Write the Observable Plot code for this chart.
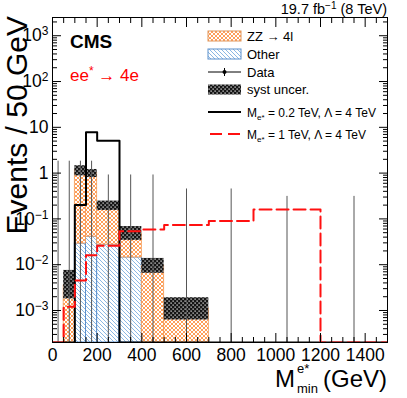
<!DOCTYPE html>
<html><head><meta charset="utf-8">
<script src="https://cdn.jsdelivr.net/npm/d3@7"></script>
<script src="https://cdn.jsdelivr.net/npm/@observablehq/plot@0.6"></script>
<style>html,body{margin:0;padding:0;background:#fff;} #chart{width:407px;height:398px;}</style>
</head><body><div id="chart"></div>
<script>
// ---- data ----
const binEdges = [0,50,100,150,200,300,400,500,700,900,1200,1500];
// background stack bins
const bkgLo = [50,100,150,200,300,400,500];
const bkgHi = [100,150,200,300,400,500,700];
const otherVals = [0, 0.029, 0.041, 0.0275, 0.0144, 0, 0];
const zzVals = [0.0035, 1.12, 0.96, 0.167, 0.034, 0.0095, 0.0011];
const systLow = [0.0018, 0.87, 0.80, 0.153, 0.034, 0.0065, 0.00062];
const systHigh = [0.0075, 1.45, 1.20, 0.245, 0.068, 0.0137, 0.0019];
// signal histograms, one value per bin of binEdges
const sig02 = [0, 0, 0.2, 7.8, 5.1, 0, 0, 0, 0, 0, 0];
const sig1 = [0, 0.0012, 0.0045, 0.016, 0.026, 0.054, 0.059, 0.074, 0.09, 0.16, 0];
// data: zero observed events, upper error bar per 50 GeV
const dataUp = [1.82, 1.82, 1.82, 1.82, 0.91, 0.91, 0.91, 0.45, 0.45, 0.31, 0.31];
const xTicks = [0,200,400,600,800,1000,1200,1400];
const yTickExp = [-3,-2,-1,0,1,2,3];
const legendLabels = ["ZZ \u2192 4l", "Other", "Data", "syst uncer."];

const FONT = "'Liberation Sans', Arial, Helvetica, sans-serif";
const YMIN = 2e-4, YMAX = 2.5e3;

const stack = bkgLo.map((lo, i) => ({lo, hi: bkgHi[i], other: otherVals[i], zz: zzVals[i], sl: systLow[i], sh: systHigh[i]}));
const stepRows = vals => binEdges.map((e, i) => ({x: e, y: (i < vals.length ? vals[i] : vals[vals.length - 1]) || YMIN}));
const dataRows = dataUp.map((u, i) => ({c: (binEdges[i] + binEdges[i + 1]) / 2, up: u}));

const xMinor = d3.range(0, 1501, 50).filter(v => !xTicks.includes(v));
const yMajor = yTickExp.map(e => 10 ** e);
const yMinor = [];
for (let e = -4; e <= 3; e++) for (let m = 2; m <= 9; m++) { const v = m * 10 ** e; if (v > YMIN && v < YMAX) yMinor.push(v); }
const fmtY = v => { const e = Math.round(Math.log10(v)); return e === 0 ? "1" : e === 1 ? "10" : "10^" + (e < 0 ? "\u2212" + (-e) : e); };
const blank = () => "";

const svg = Plot.plot({
  width: 407, height: 398,
  marginLeft: 52, marginRight: 20, marginTop: 17, marginBottom: 56,
  style: {fontFamily: FONT, fontSize: "17px", background: "white", overflow: "visible"},
  x: {domain: [0, 1500]},
  y: {type: "log", domain: [YMIN, YMAX]},
  marks: [
    Plot.rect(stack.filter(d => d.other > 0), {x1: "lo", x2: "hi", y1: () => YMIN, y2: "other", fill: "url(#hOther)", stroke: "#5b8fcc", strokeWidth: 1}),
    Plot.rect(stack, {x1: "lo", x2: "hi", y1: d => Math.max(d.other, YMIN), y2: d => d.other + d.zz, fill: "url(#hZZ)", stroke: "#f59a55", strokeWidth: 0.8}),
    Plot.rect(stack, {x1: "lo", x2: "hi", y1: "sl", y2: "sh", fill: "url(#hSyst)"}),
    Plot.ruleX(dataRows, {x: "c", y1: () => YMIN, y2: "up", stroke: "#555", strokeWidth: 1}),
    Plot.line(stepRows(sig02), {x: "x", y: "y", curve: "step-after", stroke: "black", strokeWidth: 2, clip: true}),
    Plot.line(stepRows(sig1), {x: "x", y: "y", curve: "step-after", stroke: "#ff1010", strokeWidth: 2, strokeDasharray: "12,5", clip: true}),
    Plot.frame({stroke: "black", strokeWidth: 1}),
    Plot.axisX({anchor: "bottom", ticks: xTicks, tickSize: -9, tickPadding: 15, fontSize: 17.5, label: null, tickFormat: d => String(d)}),
    Plot.axisX({anchor: "bottom", ticks: xMinor, tickSize: -5, label: null, tickFormat: blank}),
    Plot.axisX({anchor: "top", ticks: xTicks, tickSize: -9, label: null, tickFormat: blank}),
    Plot.axisX({anchor: "top", ticks: xMinor, tickSize: -5, label: null, tickFormat: blank}),
    Plot.axisY({anchor: "left", ticks: yMajor, tickSize: -9, tickPadding: 13, fontSize: 17.5, label: null, tickFormat: fmtY}),
    Plot.axisY({anchor: "left", ticks: yMinor, tickSize: -5, label: null, tickFormat: blank}),
    Plot.axisY({anchor: "right", ticks: yMajor, tickSize: -9, label: null, tickFormat: blank}),
    Plot.axisY({anchor: "right", ticks: yMinor, tickSize: -5, label: null, tickFormat: blank})
  ]
});
document.getElementById("chart").appendChild(svg);

const S = d3.select(svg);
// patterns
const defs = S.insert("defs", ":first-child");
const pz = defs.append("pattern").attr("id", "hZZ").attr("patternUnits", "userSpaceOnUse").attr("width", 4).attr("height", 4);
pz.append("rect").attr("width", 4).attr("height", 4).attr("fill", "white");
pz.append("path").attr("d", "M0,0L4,4M4,0L0,4").attr("stroke", "#ff9447").attr("stroke-width", 0.9);
const po = defs.append("pattern").attr("id", "hOther").attr("patternUnits", "userSpaceOnUse").attr("width", 4).attr("height", 4);
po.append("rect").attr("width", 4).attr("height", 4).attr("fill", "white");
po.append("path").attr("d", "M0,0L4,4M-1,3L1,5M3,-1L5,1").attr("stroke", "#6fa6dc").attr("stroke-width", 0.8);
const ps = defs.append("pattern").attr("id", "hSyst").attr("patternUnits", "userSpaceOnUse").attr("width", 4).attr("height", 4);
ps.append("rect").attr("width", 4).attr("height", 4).attr("fill", "#151515");
ps.append("rect").attr("x", 0.5).attr("y", 0.5).attr("width", 1.2).attr("height", 1.2).attr("fill", "white");
ps.append("rect").attr("x", 2.5).attr("y", 2.5).attr("width", 1.2).attr("height", 1.2).attr("fill", "white");

// superscripts in y tick labels
S.selectAll("text").each(function () {
  const t = this.textContent;
  if (t.includes("^") && this.childElementCount === 0) {
    const [b, e] = t.split("^");
    this.textContent = "";
    const s = d3.select(this);
    s.append("tspan").text(b);
    s.append("tspan").attr("dy", "-0.5em").attr("font-size", "12px").text(e);
  }
});

const G = S.append("g").attr("font-family", FONT).attr("fill", "black").attr("text-anchor", "start");
// y title
G.append("text").attr("transform", "translate(27,16) rotate(-90)").attr("text-anchor", "end").attr("font-size", 30).text("Events / 50 GeV");
// x title
{
  const y0 = 387, xr = 387;
  const tg = G.append("text").attr("x", 0).attr("y", y0).attr("font-size", 24).text("(GeV)");
  const wG = tg.node().getComputedTextLength();
  const tm = G.append("text").attr("x", 0).attr("y", y0).attr("font-size", 24).text("M");
  const wM = tm.node().getComputedTextLength();
  const tsup = G.append("text").attr("x", 0).attr("y", y0 - 14).attr("font-size", 13).text("e*");
  const tsub = G.append("text").attr("x", 0).attr("y", y0 + 6).attr("font-size", 13).text("min");
  const wB = Math.max(tsup.node().getComputedTextLength(), tsub.node().getComputedTextLength());
  const gap = 5;
  const x0 = xr - wG - gap - wB - wM - 2;
  tm.attr("x", x0); tsup.attr("x", x0 + wM + 2); tsub.attr("x", x0 + wM + 2); tg.attr("x", x0 + wM + wB + 2 + gap);
}
// lumi
{
  const t = G.append("text").attr("x", 387).attr("y", 14).attr("text-anchor", "end").attr("font-size", 14.5);
  t.append("tspan").text("19.7 fb");
  t.append("tspan").attr("dy", -5).attr("font-size", 10).text("\u22121");
  t.append("tspan").attr("dy", 5).text(" (8 TeV)");
}
// CMS
G.append("text").attr("x", 70).attr("y", 48).attr("font-size", 19).attr("font-weight", "bold").text("CMS");
{
  const t = G.append("text").attr("x", 70).attr("y", 81).attr("font-size", 17).attr("fill", "#ff0000");
  t.append("tspan").text("ee");
  t.append("tspan").attr("dy", -6).attr("font-size", 12).text("*");
  t.append("tspan").attr("dy", 6).text(" \u2192 4e");
}
// legend
{
  const bx = 208, bw = 33, tx = 247;
  const cy = [36, 54, 72, 89.5, 112, 134];
  const L = G.append("g").attr("font-size", 13);
  L.append("rect").attr("x", bx).attr("y", cy[0] - 5).attr("width", bw).attr("height", 10).attr("fill", "url(#hZZ)").attr("stroke", "#e0955a").attr("stroke-width", 1);
  L.append("rect").attr("x", bx).attr("y", cy[1] - 5).attr("width", bw).attr("height", 10).attr("fill", "url(#hOther)").attr("stroke", "#5b8fcc").attr("stroke-width", 1);
  L.append("line").attr("x1", bx).attr("x2", bx + bw).attr("y1", cy[2]).attr("y2", cy[2]).attr("stroke", "black").attr("stroke-width", 1);
  L.append("line").attr("x1", bx + bw / 2).attr("x2", bx + bw / 2).attr("y1", cy[2] - 4).attr("y2", cy[2] + 4).attr("stroke", "black").attr("stroke-width", 1);
  L.append("circle").attr("cx", bx + bw / 2).attr("cy", cy[2]).attr("r", 2).attr("fill", "black");
  L.append("rect").attr("x", bx).attr("y", cy[3] - 5).attr("width", bw).attr("height", 10).attr("fill", "url(#hSyst)");
  L.append("line").attr("x1", bx).attr("x2", bx + bw).attr("y1", cy[4]).attr("y2", cy[4]).attr("stroke", "black").attr("stroke-width", 2);
  L.append("line").attr("x1", bx + 2).attr("x2", bx + bw).attr("y1", cy[5]).attr("y2", cy[5]).attr("stroke", "#ff1010").attr("stroke-width", 2).attr("stroke-dasharray", "12,6");
  legendLabels.forEach((s, i) => L.append("text").attr("x", tx).attr("y", cy[i] + 4.5).text(s));
  const mLab = (y, mass) => {
    const t = L.append("text").attr("x", tx).attr("y", y + 4.5).attr("font-size", 12);
    t.append("tspan").text("M");
    t.append("tspan").attr("dy", 3).attr("font-size", 8).text("e*");
    t.append("tspan").attr("dy", -3).text(" = " + mass + " TeV, \u039b = 4 TeV");
  };
  mLab(cy[4], "0.2");
  mLab(cy[5], "1");
}
</script></body></html>
